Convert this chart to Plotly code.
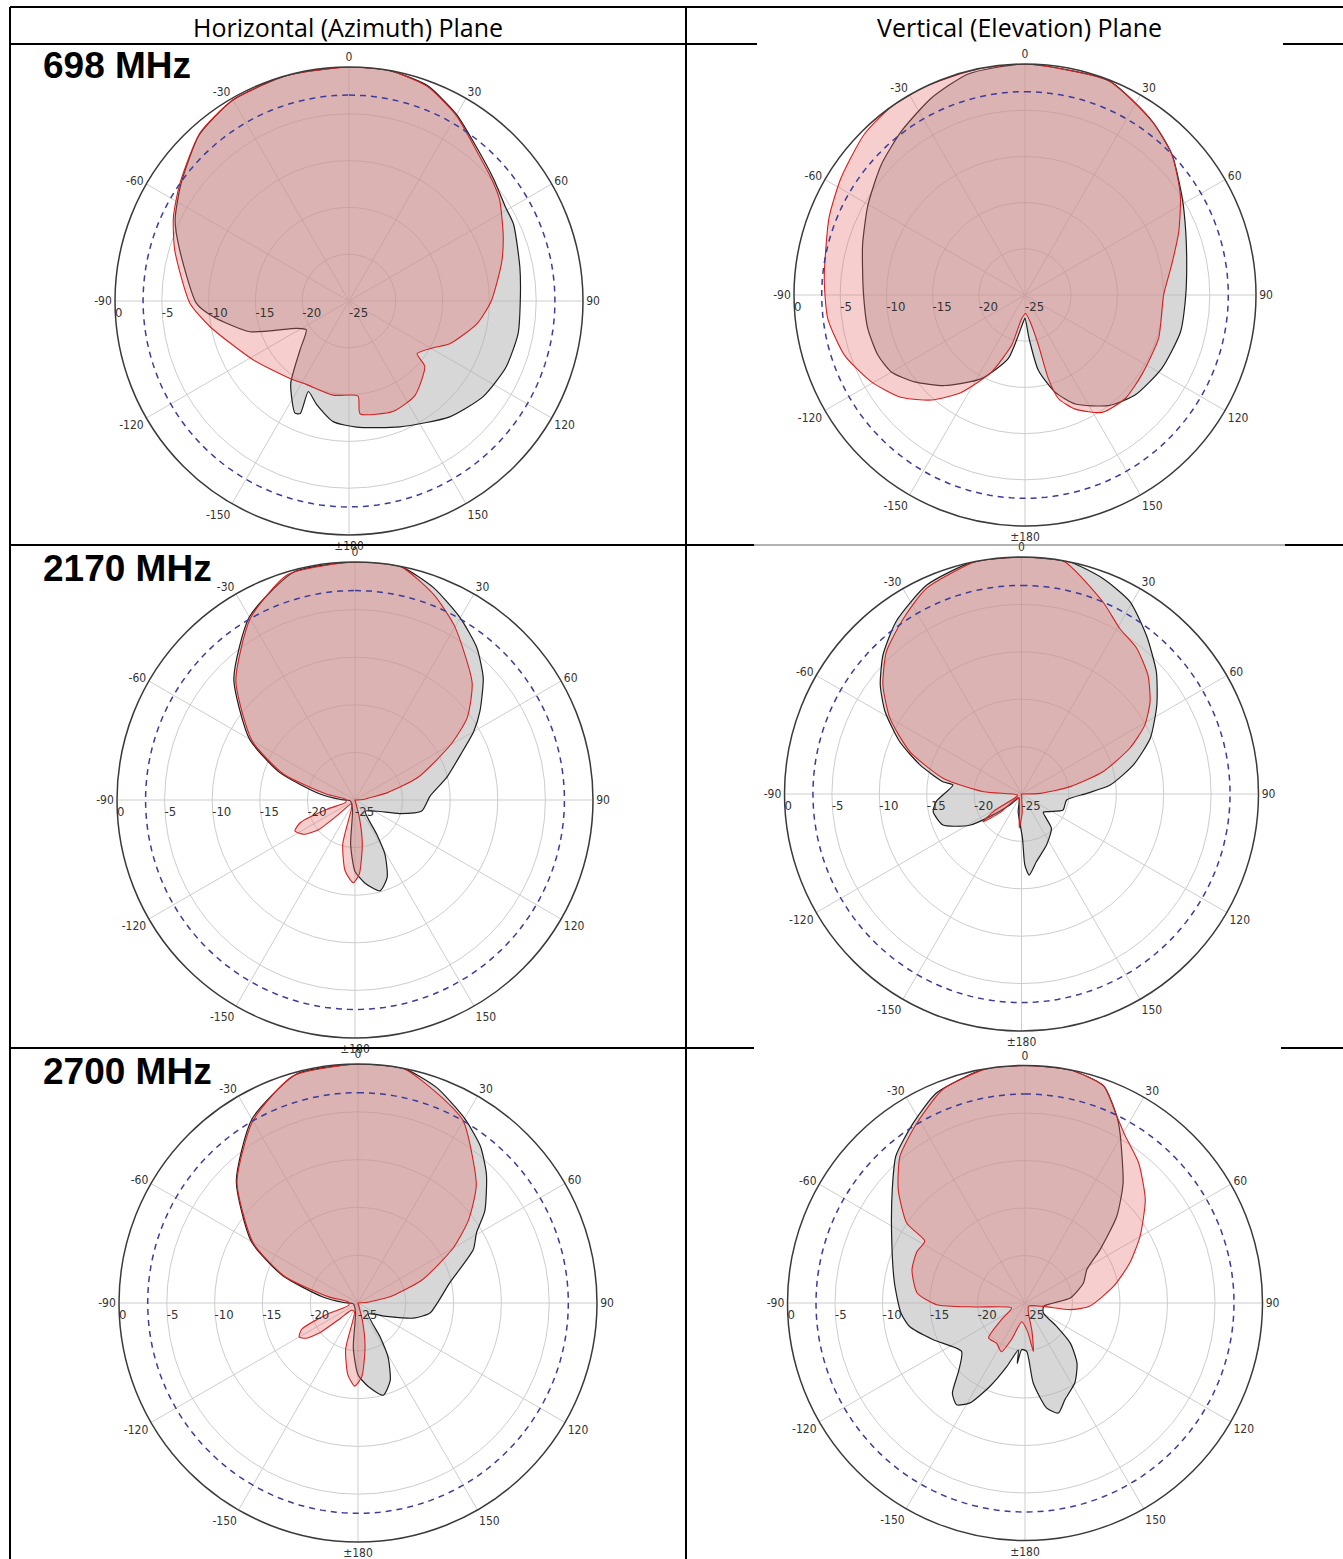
import plotly.graph_objects as go

W, H = 1343, 1559

# ---------------- data: angle (deg, clockwise from 0) and level (dB) ----------------
# 698 MHz horizontal (azimuth)
az698_black_theta = [0, 10, 20, 30, 40, 50, 59, 65, 79, 90, 101, 113, 125.5, 139, 158, 176.5, 187.5, 197.3,
                     204.2, 203.4, 205.7, 215.2, 225, 236.2, 242.4, 252.8, 263.4, 269.1, 286.8, 295, 305, 318,
                     330, 345, 360]
az698_black_db = [0, 0, -0.5, -2.0, -3.7, -4.8, -5.5, -5.6, -6.4, -6.7, -6.6, -6.8, -7.4, -8.6, -10.5, -11.5,
                  -12.0, -13.4, -14.4, -11.9, -11.7, -14.2, -17.6, -19.5, -18.7, -13.9, -10.4, -8.7, -6.1, -4.5,
                  -3.1, -1.1, -0.2, 0, 0]
az698_red_theta = [0, 10, 20, 30, 40, 50, 56, 67, 76, 90, 100, 113, 119, 127.7, 130.8, 145, 158, 174.4, 174.6,
                   189.5, 206.7, 217.3, 238.3, 259.5, 269.2, 286.3, 295.6, 304.8, 318.4, 330, 344, 360]
az698_red_db = [0, 0, -0.6, -2.1, -3.9, -5.0, -5.6, -7.1, -8.2, -9.8, -11.1, -13.3, -14.7, -15.8, -14.3, -12.7,
                -12.3, -12.9, -14.8, -14.8, -15.0, -14.6, -13.0, -9.9, -8.0, -5.6, -4.2, -3.0, -1.0, -0.2, 0, 0]

# 698 MHz vertical (elevation)
el698_black_theta = [0, 21.3, 36.2, 46.3, 58.3, 68.5, 79.5, 90, 103.3, 118.2, 132.3, 142.9, 155.2, 162.8, 169.9,
                     174.7, 180, 183.6, 194.7, 207.5, 221.6, 231.8, 240.1, 247.8, 258, 271.2, 287.2, 299.9,
                     312.2, 322.9, 334.6, 345.6, 360]
el698_black_db = [0, -0.1, -1.7, -3.0, -5.0, -6.3, -7.2, -7.6, -7.7, -8.2, -8.9, -10.0, -12.0, -14.0, -16.7,
                  -20.3, -22.5, -22.1, -17.9, -14.8, -11.9, -9.8, -8.3, -7.8, -7.6, -7.5, -6.6, -5.4, -4.0,
                  -2.8, -1.4, -0.3, 0]
el698_red_theta = [0, 21.3, 36.2, 46.3, 57.2, 67.6, 78.4, 90, 108, 124.4, 135.9, 146.7, 156.2, 162.1, 164.4,
                   165, 169.4, 178, 188.1, 194.9, 203.5, 213.2, 221.6, 230.5, 240.5, 251.6, 263.2, 274.8,
                   291.5, 302.5, 315, 324.9, 334.9, 347.6, 360]
el698_red_db = [0, -0.1, -1.7, -3.0, -5.0, -7.0, -8.8, -10.0, -9.8, -9.7, -9.4, -9.8, -11.5, -13.2, -15.6,
                -19.4, -22.1, -23.0, -22.4, -19.4, -15.9, -12.4, -9.8, -7.6, -5.9, -4.4, -3.5, -3.2, -2.2,
                -1.4, -0.4, 0, 0, 0, 0]

# 2170 MHz horizontal
az2170_black_theta = [0, 11, 20.2, 30, 38.6, 46.4, 54.6, 60, 67, 76.3, 87, 99.4, 106.9, 117, 137.7, 147.7,
                      151.1, 157.4, 164.6, 173.1, 180, 185.6, 195, 260, 272, 280, 290, 300, 315, 330, 345, 360]
az2170_black_db = [0, 0, -1.2, -2.9, -4.5, -6.4, -8.9, -10.6, -13.0, -15.1, -17.1, -17.9, -20.1, -22.4, -23.4,
                   -20.7, -18.5, -16.2, -15.1, -16.2, -17.5, -20.3, -24, -24.5, -23.5, -21.2, -16.6, -12.2,
                   -7.0, -2.8, -0.2, 0]
az2170_red_theta = [0, 11, 21, 30, 45, 53.8, 60, 70.3, 77.2, 85, 120, 160, 166, 170.6, 176.7, 181.2, 188,
                    195.5, 202, 222, 229, 231, 236.4, 242.7, 247.6, 251.8, 256, 275, 281.6, 290, 300, 315,
                    330, 343.3, 360]
az2170_red_db = [0, 0, -1.9, -4.0, -7.6, -10.4, -13.4, -18.0, -21.5, -24, -25, -25, -23.1, -20.3, -17.2,
                 -16.3, -17.5, -20.2, -24, -24.5, -22.5, -20.0, -18.5, -17.9, -18.8, -21.9, -24, -24, -22.0,
                 -17.0, -12.5, -7.3, -3.0, -0.3, 0]

# 2170 MHz vertical
el2170_black_theta = [0, 11.8, 20.7, 29.4, 38.2, 47.8, 56.6, 66.6, 75.4, 84.2, 89.4, 97.6, 111, 121.9, 130,
                      138.9, 153.9, 167.5, 174.6, 177.3, 178.7, 190.7, 210, 226.7, 234.4, 239, 248.4, 258.7,
                      265.2, 277.5, 278.9, 285.9, 293.3, 301.1, 307.6, 315.1, 324, 335.6, 348, 360]
el2170_black_db = [0, 0, -0.7, -1.7, -3.7, -5.8, -7.9, -10.2, -12.8, -15.6, -18.1, -20.2, -20.3, -21.5, -22,
                   -20.2, -19.0, -17.7, -16.4, -17.5, -20.3, -23.1, -24.5, -23.3, -20.9, -18.6, -16.1, -15.5,
                   -16.0, -17.7, -16.6, -13.9, -11.0, -8.2, -6.2, -4.3, -2.5, -0.8, 0, 0]
el2170_red_theta = [0, 10.1, 23, 30.7, 38.3, 46.8, 54.3, 60.8, 67.1, 74.7, 81.4, 88, 120, 170, 178, 183.9,
                    188, 222, 229, 234.2, 238, 245, 262, 273.5, 281.3, 290.8, 299.9, 308.2, 316.5, 326,
                    335.2, 349.1, 360]
el2170_red_db = [0, 0, -3.0, -4.7, -5.4, -6.7, -8.3, -10.1, -12.6, -16.1, -19.8, -23, -25, -25, -23, -21.4,
                 -23.5, -24.5, -22, -20.0, -21.5, -24.5, -24.5, -21.0, -16.6, -12.4, -9.0, -6.4, -4.3, -2.7,
                 -1.1, 0, 0]

# 2700 MHz horizontal
az2700_black_theta = [0, 11, 20, 30, 38, 45, 54, 59.4, 65.1, 77.7, 97.9, 105.3, 115.2, 137, 147, 151, 157.5,
                      164.7, 173, 180, 186, 195, 260, 272, 280, 290, 300, 315, 330, 345, 360]
az2700_black_db = [0, 0, -1.0, -2.7, -4.2, -6.0, -8.6, -10.6, -11.7, -15.2, -17.4, -19.0, -21.7, -23.4, -20.7,
                   -18.5, -16.2, -15.0, -16.2, -17.5, -20.3, -24, -24.5, -23.5, -21.2, -16.6, -12.1, -7.0,
                   -2.8, -0.2, 0]
az2700_red_theta = [0, 11, 21, 30, 45, 53, 60, 70, 78, 86, 120, 160, 166, 171, 177, 182.3, 188, 195, 202,
                    222, 229, 232, 236, 240, 245, 250, 256, 275, 282, 290, 300, 315, 330, 344, 360]
az2700_red_db = [0, 0, -1.6, -3.0, -7.5, -10.5, -13.5, -17.8, -21.3, -24, -25, -25, -23.0, -20.3, -17.3,
                 -16.3, -17.4, -20.0, -24, -24, -22.5, -20.0, -18.4, -17.9, -18.5, -21.5, -24, -24, -21.8,
                 -16.8, -12.3, -7.1, -3.0, -0.3, 0]

# 2700 MHz vertical
el2700_black_theta = [0, 10.9, 19.9, 26.2, 29.2, 39.3, 46.6, 54.6, 61.6, 71.1, 83.7, 100, 118.6, 126.4, 131.6,
                      139.3, 148, 157.5, 163.1, 168.3, 174.1, 178, 184, 187.3, 188.1, 196.1, 202.8, 208.8,
                      213.9, 218.8, 224.3, 232.7, 248.2, 258.5, 265.4, 278.7, 296.6, 310.6, 318.7, 328.2,
                      337.2, 350, 360]
el2700_black_db = [0, 0, -0.7, -3.1, -4.5, -8.7, -11.7, -15.3, -17.6, -18.5, -20.2, -23, -22.8, -20.9, -18.6,
                   -16.6, -15.1, -14.0, -12.9, -13.7, -16.5, -19.9, -20.1, -18.6, -20.0, -18.0, -15.5, -13.0,
                   -12.1, -12.8, -15.0, -16.6, -14.6, -12.6, -11.9, -11.1, -9.3, -6.6, -4.4, -2.7, -1.0, 0, 0]
el2700_red_theta = [0, 10.9, 19.9, 26.2, 31, 39, 49.3, 59.9, 69.1, 79.3, 92.9, 98.4, 100.3, 130, 160, 166,
                    170.2, 175, 190, 200, 205.8, 215, 226.3, 235, 250, 265.3, 268.9, 275.3, 286.4, 295.5,
                    301.7, 304, 311.8, 319.6, 329, 339, 350.7, 360]
el2700_red_db = [0, 0, -0.7, -3.1, -4.5, -6.0, -8.3, -11.0, -13.2, -15.5, -18.2, -20.2, -23.0, -24.5, -24,
                 -22, -19.8, -22, -23, -21, -19.3, -19.8, -19.7, -22, -23.5, -19.9, -15.7, -13.6, -12.6, -12.4,
                 -12.6, -10.0, -7.1, -4.7, -2.9, -0.9, 0, 0]

angle_ticks = [0, 30, 60, 90, 120, 150, 180, 210, 240, 270, 300, 330]
angle_labels = ["0", "30", "60", "90", "120", "150", "±180", "-150", "-120", "-90", "-60", "-30"]
radial_ticks = [0, -5, -10, -15, -20, -25]
radial_labels = ["0", "-5", "-10", "-15", "-20", "-25"]
ref_level_db = -3

column_titles = ["Horizontal (Azimuth) Plane", "Vertical (Elevation) Plane"]
row_titles = ["698 MHz", "2170 MHz", "2700 MHz"]

# ---------------- layout of the six panels (pixel centres / radii) ----------------
panels = [
    dict(cx=349, cy=301, R=234, black=(az698_black_theta, az698_black_db), red=(az698_red_theta, az698_red_db)),
    dict(cx=1025, cy=295, R=231, black=(el698_black_theta, el698_black_db), red=(el698_red_theta, el698_red_db)),
    dict(cx=355, cy=800, R=238, black=(az2170_black_theta, az2170_black_db), red=(az2170_red_theta, az2170_red_db)),
    dict(cx=1021.5, cy=794, R=237, black=(el2170_black_theta, el2170_black_db), red=(el2170_red_theta, el2170_red_db)),
    dict(cx=358, cy=1303, R=239, black=(az2700_black_theta, az2700_black_db), red=(az2700_red_theta, az2700_red_db)),
    dict(cx=1025, cy=1303, R=237.5, black=(el2700_black_theta, el2700_black_db), red=(el2700_red_theta, el2700_red_db)),
]

ANG_FONT = dict(family="Liberation Sans Narrow, DejaVu Sans Condensed, sans-serif", size=12, color="#333333")
RAD_FONT = dict(family="Liberation Sans Narrow, DejaVu Sans Condensed, sans-serif", size=13, color="#333333")

fig = go.Figure()
layout_polars = {}
ref_theta = list(range(0, 361, 2))

for i, p in enumerate(panels):
    key = "polar" if i == 0 else f"polar{i + 1}"
    bt, bd = p["black"]
    rt, rd = p["red"]
    fig.add_trace(go.Scatterpolar(
        theta=bt, r=bd, subplot=key, mode="lines", fill="toself",
        fillcolor="rgba(175,175,175,0.5)",
        line=dict(color="#1e1e1e", width=1.2, shape="spline", smoothing=0.6),
        showlegend=False, hoverinfo="skip"))
    fig.add_trace(go.Scatterpolar(
        theta=rt, r=rd, subplot=key, mode="lines", fill="toself",
        fillcolor="rgba(228,106,106,0.33)",
        line=dict(color="#d42020", width=1.1, shape="spline", smoothing=0.6),
        showlegend=False, hoverinfo="skip"))
    fig.add_trace(go.Scatterpolar(
        theta=ref_theta, r=[ref_level_db] * len(ref_theta), subplot=key, mode="lines",
        line=dict(color="#3c3c9c", width=1.5, dash="6px,5px"),
        showlegend=False, hoverinfo="skip"))

    x0 = (p["cx"] - p["R"]) / W
    x1 = (p["cx"] + p["R"]) / W
    y0 = 1 - (p["cy"] + p["R"]) / H
    y1 = 1 - (p["cy"] - p["R"]) / H
    layout_polars[key] = dict(
        domain=dict(x=[x0, x1], y=[y0, y1]),
        bgcolor="white",
        angularaxis=dict(
            rotation=90, direction="clockwise", tickmode="array",
            tickvals=angle_ticks, ticktext=angle_labels,
            showline=True, linecolor="#3a3a3a", linewidth=1.5,
            gridcolor="#cdcdcd", gridwidth=1, ticks="", tickfont=ANG_FONT),
        radialaxis=dict(
            range=[-25, 0], autorange=False, tickmode="array",
            tickvals=radial_ticks, ticktext=radial_labels,
            angle=180, side="counterclockwise", tickangle=180,
            showline=False, ticks="", gridcolor="#cdcdcd", gridwidth=1, tickfont=RAD_FONT),
    )


def px(x):
    return x / W


def py(y):
    return 1 - y / H


shapes = []


def hline(y, xa, xb, w=2, c="black"):
    shapes.append(dict(type="line", xref="paper", yref="paper", x0=px(xa), x1=px(xb), y0=py(y), y1=py(y),
                       line=dict(color=c, width=w), layer="above"))


def vline(x, ya, yb, w=2, c="black"):
    shapes.append(dict(type="line", xref="paper", yref="paper", x0=px(x), x1=px(x), y0=py(ya), y1=py(yb),
                       line=dict(color=c, width=w), layer="above"))


# table grid
hline(7, 10, 1343)
hline(44, 10, 686)
hline(44, 686, 757)
hline(44, 1283, 1343)
hline(545, 10, 686)
hline(545, 686, 754)
hline(545, 754, 1285, w=1, c="#666666")
hline(545, 1285, 1343)
hline(1048, 10, 686)
hline(1048, 686, 754)
hline(1048, 1281, 1343)
vline(10, 7, 1559)
vline(686, 7, 1559)

annotations = []
for txt, cx in zip(column_titles, [348, 1019]):
    annotations.append(dict(text=txt, x=px(cx), y=py(27), xref="paper", yref="paper", showarrow=False,
                            xanchor="center", yanchor="middle",
                            font=dict(family="Open Sans, Lato, sans-serif", size=25, color="black")))
for txt, cy in zip(row_titles, [66, 568, 1071]):
    annotations.append(dict(text=f"<b>{txt}</b>", x=px(41), y=py(cy), xref="paper", yref="paper",
                            showarrow=False, xanchor="left", yanchor="middle",
                            font=dict(family="Liberation Sans, Arial, sans-serif", size=37, color="black")))

fig.update_layout(
    width=W, height=H, margin=dict(l=0, r=0, t=0, b=0),
    paper_bgcolor="white", plot_bgcolor="white",
    showlegend=False, shapes=shapes, annotations=annotations,
    **layout_polars)

fig.write_html("out.html", config={"displayModeBar": False},
               post_script="document.body.style.margin='0';document.body.style.padding='0';")
